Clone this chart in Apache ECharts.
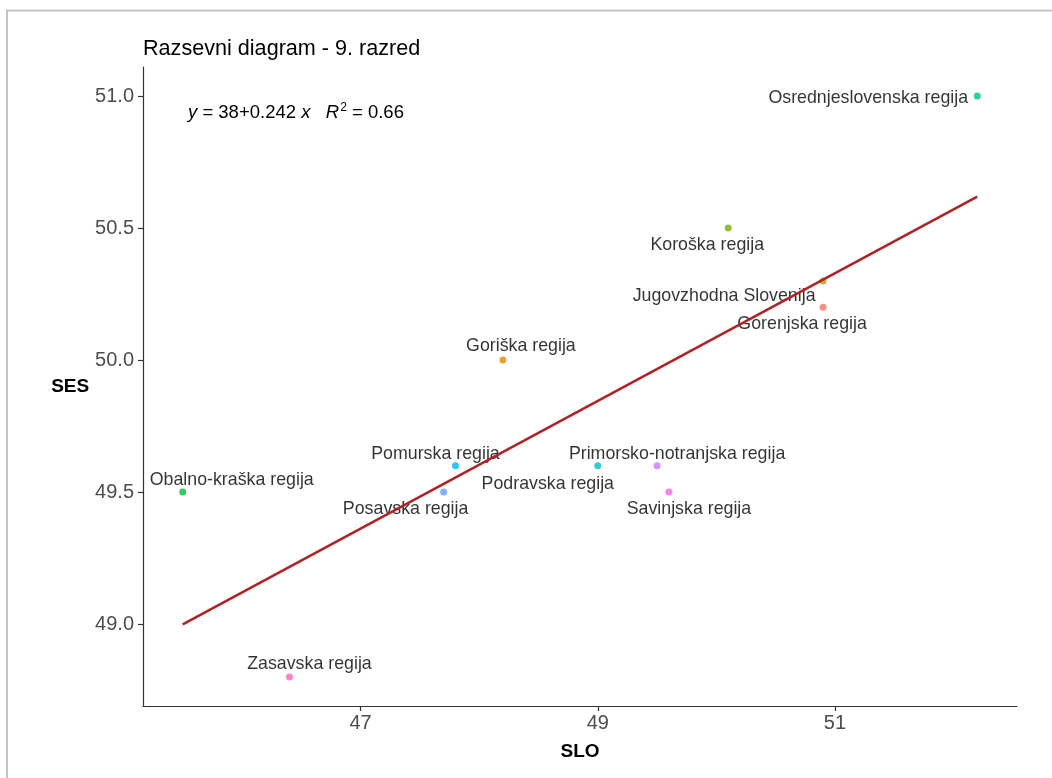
<!DOCTYPE html>
<html>
<head>
<meta charset="utf-8">
<script src="https://cdn.jsdelivr.net/npm/echarts@6/dist/echarts.min.js"></script>
<style>
  html, body { margin: 0; padding: 0; background: #fff; }
  #chart { width: 1052px; height: 778px; }
</style>
</head>
<body>
<div id="chart"></div>
<script>
// Regions and their average scores (SLO = Slovene, SES = socio-economic status), 9th grade
const regions = [
  'Gorenjska regija', 'Goriška regija', 'Jugovzhodna Slovenija', 'Koroška regija',
  'Obalno-kraška regija', 'Osrednjeslovenska regija', 'Podravska regija', 'Pomurska regija',
  'Posavska regija', 'Primorsko-notranjska regija', 'Savinjska regija', 'Zasavska regija'
];
const sloValues = [50.9, 48.2, 50.9, 50.1, 45.5, 52.2, 49.0, 47.8, 47.7, 49.5, 49.6, 46.4];
const sesValues = [50.2, 50.0, 50.3, 50.5, 49.5, 51.0, 49.6, 49.6, 49.5, 49.6, 49.5, 48.8];
const xTickValues = [47, 49, 51];
const yTickValues = [49.0, 49.5, 50.0, 50.5, 51.0];
const titleText = 'Razsevni diagram - 9. razred';
const xAxisTitle = 'SLO';
const yAxisTitle = 'SES';

// Styling: one hue per region, and where each region's name sits next to its point
const pointColors = ['#F8766D', '#DE8C00', '#B79F00', '#7CAE00', '#00BA38', '#00C08B',
                     '#00BFC4', '#00B4F0', '#619CFF', '#C77CFF', '#F564E3', '#FF64B0'];
const labelShift = [
  [-21, 17], [18, -14], [-99, 15], [-21, 17], [49, -12], [-109, 2],
  [-50, 18], [-20, -12], [-38, 17], [20, -12], [20, 17], [20, -13]
];
const pointSize = 7;

// Ordinary least-squares fit of SES on SLO
function fitLine(xs, ys) {
  const n = xs.length;
  const mx = xs.reduce((a, b) => a + b, 0) / n;
  const my = ys.reduce((a, b) => a + b, 0) / n;
  let sxy = 0, sxx = 0, syy = 0;
  for (let i = 0; i < n; i++) {
    sxy += (xs[i] - mx) * (ys[i] - my);
    sxx += (xs[i] - mx) ** 2;
    syy += (ys[i] - my) ** 2;
  }
  const slope = sxy / sxx;
  return { slope, intercept: my - slope * mx, r2: (sxy * sxy) / (sxx * syy) };
}
const fit = fitLine(sloValues, sesValues);
const xLo = Math.min(...sloValues), xHi = Math.max(...sloValues);
const yLo = Math.min(...sesValues), yHi = Math.max(...sesValues);
const fitPoints = [xLo, xHi].map(x => [x, fit.intercept + fit.slope * x]);

// 5% padding around the data range on both axes
const padX = (xHi - xLo) * 0.05, padY = (yHi - yLo) * 0.05;

// Label position is given relative to the symbol's box, so shift from its centre
const scatterData = regions.map((name, i) => ({
  name,
  value: [sloValues[i], sesValues[i]],
  itemStyle: { color: pointColors[i] },
  label: {
    position: [pointSize / 2 + labelShift[i][0], pointSize / 2 + labelShift[i][1]],
    align: 'center',
    verticalAlign: 'middle'
  }
}));

const fmt3 = v => String(Number(v.toPrecision(3)));
const FONT = 'Liberation Sans, Arial, sans-serif';

const chart = echarts.init(document.getElementById('chart'), null, { renderer: 'canvas' });
chart.setOption({
  animation: false,
  backgroundColor: '#ffffff',
  textStyle: { fontFamily: FONT },
  title: {
    text: titleText,
    left: 143,
    top: 38,
    padding: 0,
    textStyle: { fontSize: 21.6, fontWeight: 'normal', color: '#000', fontFamily: FONT }
  },
  grid: { left: 143, right: 35, top: 67, bottom: 72, containLabel: false, outerBoundsMode: 'none' },
  xAxis: {
    type: 'value',
    min: xLo - padX,
    max: xHi + padX,
    name: xAxisTitle,
    nameLocation: 'middle',
    nameGap: 36,
    nameTextStyle: { fontSize: 19, fontWeight: 'bold', color: '#000' },
    axisLine: { show: true, lineStyle: { color: '#333', width: 1.2 } },
    axisTick: { show: true, length: 5, customValues: xTickValues, lineStyle: { color: '#333', width: 1.2 } },
    axisLabel: { customValues: xTickValues, color: '#4D4D4D', fontSize: 20, margin: 7 },
    splitLine: { show: false }
  },
  yAxis: {
    type: 'value',
    min: yLo - padY,
    max: yHi + padY,
    name: yAxisTitle,
    nameLocation: 'middle',
    nameRotate: 0,
    nameGap: 53,
    nameTextStyle: { fontSize: 19, fontWeight: 'bold', color: '#000' },
    axisLine: { show: true, lineStyle: { color: '#333', width: 1.2 } },
    axisTick: { show: true, length: 5, customValues: yTickValues, lineStyle: { color: '#333', width: 1.2 } },
    axisLabel: { customValues: yTickValues, color: '#4D4D4D', fontSize: 20, margin: 9, formatter: v => v.toFixed(1) },
    splitLine: { show: false }
  },
  graphic: [
    {
      type: 'rect',
      silent: true,
      shape: { x: 7, y: 10.5, width: 1200, height: 1000 },
      style: { fill: 'none', stroke: '#c4c4c4', lineWidth: 2 }
    },
    {
      type: 'text',
      silent: true,
      x: 188,
      y: 113,
      style: {
        text: '{it|y} = ' + fmt3(fit.intercept) + '+' + fmt3(fit.slope) + ' {it|x}   {it|R}{sup|2} = ' + fit.r2.toFixed(2),
        fontSize: 18.5,
        fill: '#000',
        fontFamily: FONT,
        verticalAlign: 'middle',
        rich: {
          it: { fontStyle: 'italic', fontSize: 18.5, fill: '#000' },
          sup: { fontSize: 12, verticalAlign: 'top', fill: '#000', padding: [0, 0, 10, 1] }
        }
      }
    }
  ],
  series: [
    {
      type: 'scatter',
      z: 2,
      symbol: 'circle',
      symbolSize: pointSize,
      data: scatterData,
      label: {
        show: true,
        formatter: p => p.name,
        fontSize: 17.8,
        color: '#000'
      },
      labelLayout: { hideOverlap: false },
      emphasis: { disabled: true }
    },
    {
      type: 'line',
      z: 3,
      data: fitPoints,
      symbol: 'none',
      lineStyle: { color: '#AD2427', width: 2.6 },
      emphasis: { disabled: true }
    }
  ]
});
</script>
</body>
</html>
